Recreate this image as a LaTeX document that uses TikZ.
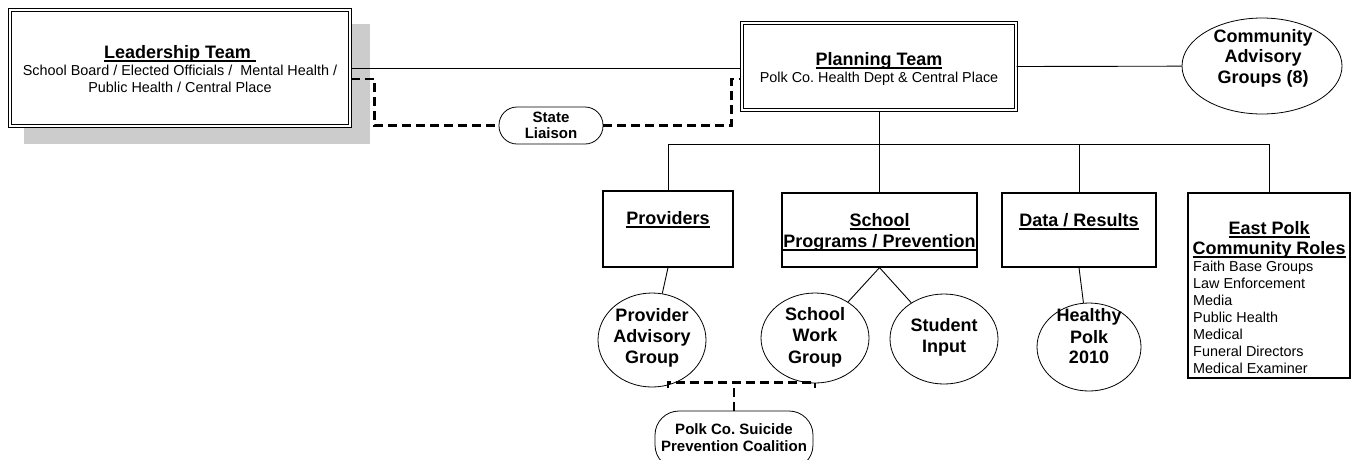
\documentclass[tikz,border=0pt]{standalone}
\usepackage{fontspec}
\setmainfont{Liberation Sans}
\usetikzlibrary{shapes.geometric,calc}
\frenchspacing
\newsavebox\ulbox
\newcommand\ulx[1]{\sbox\ulbox{#1}\rlap{\vrule height -1.8pt depth 3.2pt width \wd\ulbox}\usebox\ulbox}
\newcommand\tb{\fontsize{18}{21}\selectfont\bfseries}
\newcommand\tr{\fontsize{14.4}{17}\selectfont}
\newcommand\tp{\fontsize{15}{17}\selectfont\bfseries}
\tikzset{
  box/.style={draw, line width=1.2pt, fill=white, inner sep=0pt},
  dbox/.style={draw, double=white, double distance=2pt, line width=0.9pt, fill=white, inner sep=0pt},
  oval/.style={draw, ellipse, line width=0.8pt, fill=white, inner sep=0pt},
  pill/.style={draw, rectangle, line width=0.8pt, fill=white, inner sep=0pt},
  conn/.style={line width=0.9pt},
  dsh/.style={line width=2.4pt, dash pattern=on 9pt off 5pt},
  txt/.style={anchor=base, inner sep=0pt},
}
\begin{document}
\begin{tikzpicture}[x=1pt,y=-1pt]
\useasboundingbox (0,0) rectangle (1351,459);
% shadow
\fill[black!20] (24,24) rectangle (370,144);
% boxes
\node[dbox, minimum width=340.2pt, minimum height=116.2pt] (lead) at (180,68) {};
\node[dbox, minimum width=274.2pt, minimum height=87.2pt] (plan) at (879,66.5) {};
\node[oval, minimum width=160pt, minimum height=96pt] (comm) at (1262,66) {};
\node[pill, rounded corners=18pt, minimum width=104pt, minimum height=37pt] (state) at (551,125.5) {};
\node[box, minimum width=130pt, minimum height=76pt] (prov) at (668,229) {};
\node[box, minimum width=195pt, minimum height=74pt] (school) at (879.5,230) {};
\node[box, minimum width=154pt, minimum height=74pt] (data) at (1079,230) {};
\node[box, minimum width=162pt, minimum height=185pt] (east) at (1269,285.5) {};
\node[oval, minimum width=108pt, minimum height=94pt] (pag) at (652,340) {};
\node[oval, minimum width=108pt, minimum height=90pt] (swg) at (815,338) {};
\node[oval, minimum width=108pt, minimum height=90pt] (stu) at (944,339) {};
\node[oval, minimum width=104pt, minimum height=88pt] (hp) at (1089,347) {};
\node[pill, rounded corners=24pt, minimum width=158pt, minimum height=58pt] (coal) at (734,440) {};
\coordinate (bus) at (879,144);
% connectors
\draw[conn] (lead.east) -- (lead.east -| plan.west);
\draw[conn] (plan.east) -- (comm);
\draw[dsh] ([yshift=-11pt]lead.east) -- ++(24,0) |- (state.west);
\draw[dsh] (state.east) -| ([xshift=-10pt,yshift=-12.5pt]plan.west) -- ([yshift=-12.5pt]plan.west);
\draw[conn] (plan.south) -- (bus);
\draw[conn] (prov.north) -- (prov.north |- bus) -- (east.north |- bus) -- (east.north);
\draw[conn] (school.north) -- (school.north |- bus);
\draw[conn] (data.north) -- (data.north |- bus);
\draw[conn] (prov.south) -- (pag);
\draw[conn] (school.south) -- (swg);
\draw[conn] (school.south) -- (stu);
\draw[conn] (data.south) -- (hp);
\draw[dsh] ([xshift=16pt,yshift=-1pt]pag.south) -- ++(0,-6) -| ([yshift=-5pt]swg.south);
\draw[dsh] (coal.north) -- (coal.north |- 0,382);
% texts
\node[txt, font=\tb] (leadT) at (180,58.5) {\ulx{Leadership Team\ }};
\node[txt, font=\tr] (leadA) at (180,75.2) {School Board / Elected Officials /\ \ Mental Health /};
\node[txt, font=\tr] (leadB) at (180,92.2) {Public Health / Central Place};
\node[txt, font=\tb] (planT) at (879,65.5) {\ulx{Planning Team}};
\node[txt, font=\tr] (planA) at (879,82) {Polk Co. Health Dept \& Central Place};
\node[txt, font=\tb] (commA) at (1263,42.5) {Community};
\node[txt, font=\tb] (commB) at (1263,62.5) {Advisory};
\node[txt, font=\tb] (commC) at (1263,83) {Groups (8)};
\node[txt, font=\tp] (stateA) at (551,122.4) {State};
\node[txt, font=\tp] (stateB) at (551,138.6) {Liaison};
\node[txt, font=\tb] (provT) at (668,224.5) {\ulx{Providers}};
\node[txt, font=\tb] (schT) at (879.5,226.5) {\ulx{School}};
\node[txt, font=\tb] (schB) at (879.5,247.5) {\ulx{Programs / Prevention}};
\node[txt, font=\tb] (dataT) at (1079,226.5) {\ulx{Data / Results}};
\node[txt, font=\tb] (eastT) at (1269,234.5) {\ulx{East Polk}};
\node[txt, font=\tb] (eastB) at (1269,254.5) {\ulx{Community Roles}};
\node[anchor=north west, inner sep=0pt, font=\tr, align=left] (eastL) at (1193,261) {Faith Base Groups\\Law Enforcement\\Media\\Public Health\\Medical\\Funeral Directors\\Medical Examiner};
\node[txt, font=\tb] (pagA) at (652,321.5) {Provider};
\node[txt, font=\tb] (pagB) at (652,342.5) {Advisory};
\node[txt, font=\tb] (pagC) at (652,363.5) {Group};
\node[txt, font=\tb] (swgA) at (815,320.5) {School};
\node[txt, font=\tb] (swgB) at (815,341.5) {Work};
\node[txt, font=\tb] (swgC) at (815,363.5) {Group};
\node[txt, font=\tb] (stuA) at (944,331.5) {Student};
\node[txt, font=\tb] (stuB) at (944,352.5) {Input};
\node[txt, font=\tb] (hpA) at (1089,321.5) {Healthy};
\node[txt, font=\tb] (hpB) at (1089,343.5) {Polk};
\node[txt, font=\tb] (hpC) at (1089,363.5) {2010};
\node[txt, font=\tp] (coalA) at (734,434.4) {Polk Co. Suicide};
\node[txt, font=\tp] (coalB) at (734,451.4) {Prevention Coalition};
\end{tikzpicture}
\end{document}
